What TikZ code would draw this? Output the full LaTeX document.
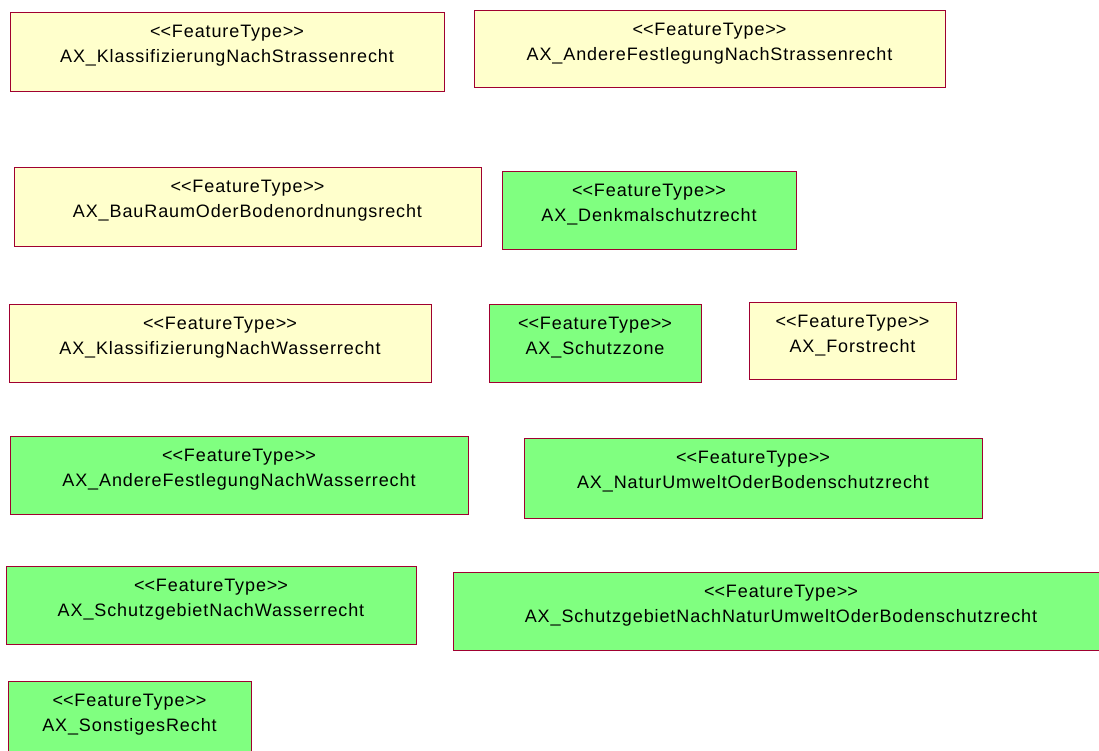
\documentclass[tikz,border=0pt]{standalone}
\usepackage{fontspec}
\setmainfont{Liberation Sans}[LetterSpace=5]
\definecolor{ftyellow}{RGB}{255,255,204}
\definecolor{ftgreen}{RGB}{128,255,128}
\definecolor{ftborder}{RGB}{160,0,48}
\newcommand\stereo{<\kern0pt<FeatureType>\kern0pt>}
\newcommand\umlbox[7]{%
  \node[ftbox, fill=#6, minimum width={(#4-#2)*1pt}, minimum height={(#5-#3)*1pt}] (#1) at (#2,#3) {};
  \node[fttext] (#1s) at ([yshift=-25pt]#1.north) {\stereo};
  \node[fttext] (#1n) at ([yshift=-50pt]#1.north) {#7};
}
\begin{document}
\begin{tikzpicture}[x=1pt,y=-1pt,
  ftbox/.style={draw=ftborder, line width=1pt, anchor=north west, inner sep=0pt, outer sep=0pt},
  fttext/.style={anchor=base, inner sep=0pt, font=\fontsize{18}{22}\selectfont, text=black}]
\useasboundingbox (0,0) rectangle (1099,751);
\clip (0,0) rectangle (1099,751);
\umlbox{b1}{10}{13}{444}{92}{ftyellow}{AX\_KlassifizierungNachStrassenrecht}
\umlbox{b2}{474}{11}{945}{88}{ftyellow}{AX\_AndereFestlegungNachStrassenrecht}
\umlbox{b3}{14}{168}{481}{246}{ftyellow}{AX\_BauRaumOderBodenordnungsrecht}
\umlbox{b4}{502}{172}{796}{249}{ftgreen}{AX\_Denkmalschutzrecht}
\umlbox{b5}{9}{304}{431}{382}{ftyellow}{AX\_KlassifizierungNachWasserrecht}
\umlbox{b6}{489}{304}{701}{382}{ftgreen}{AX\_Schutzzone}
\umlbox{b7}{749}{302}{956}{379}{ftyellow}{AX\_Forstrecht}
\umlbox{b8}{10}{436}{468}{514}{ftgreen}{AX\_AndereFestlegungNachWasserrecht}
\umlbox{b9}{524}{438}{982}{518}{ftgreen}{AX\_NaturUmweltOderBodenschutzrecht}
\umlbox{b10}{6}{566}{416}{644}{ftgreen}{AX\_SchutzgebietNachWasserrecht}
\umlbox{b11}{453}{572}{1109}{650}{ftgreen}{AX\_SchutzgebietNachNaturUmweltOderBodenschutzrecht}
\umlbox{b12}{8}{681}{251}{760}{ftgreen}{AX\_SonstigesRecht}
\end{tikzpicture}
\end{document}
